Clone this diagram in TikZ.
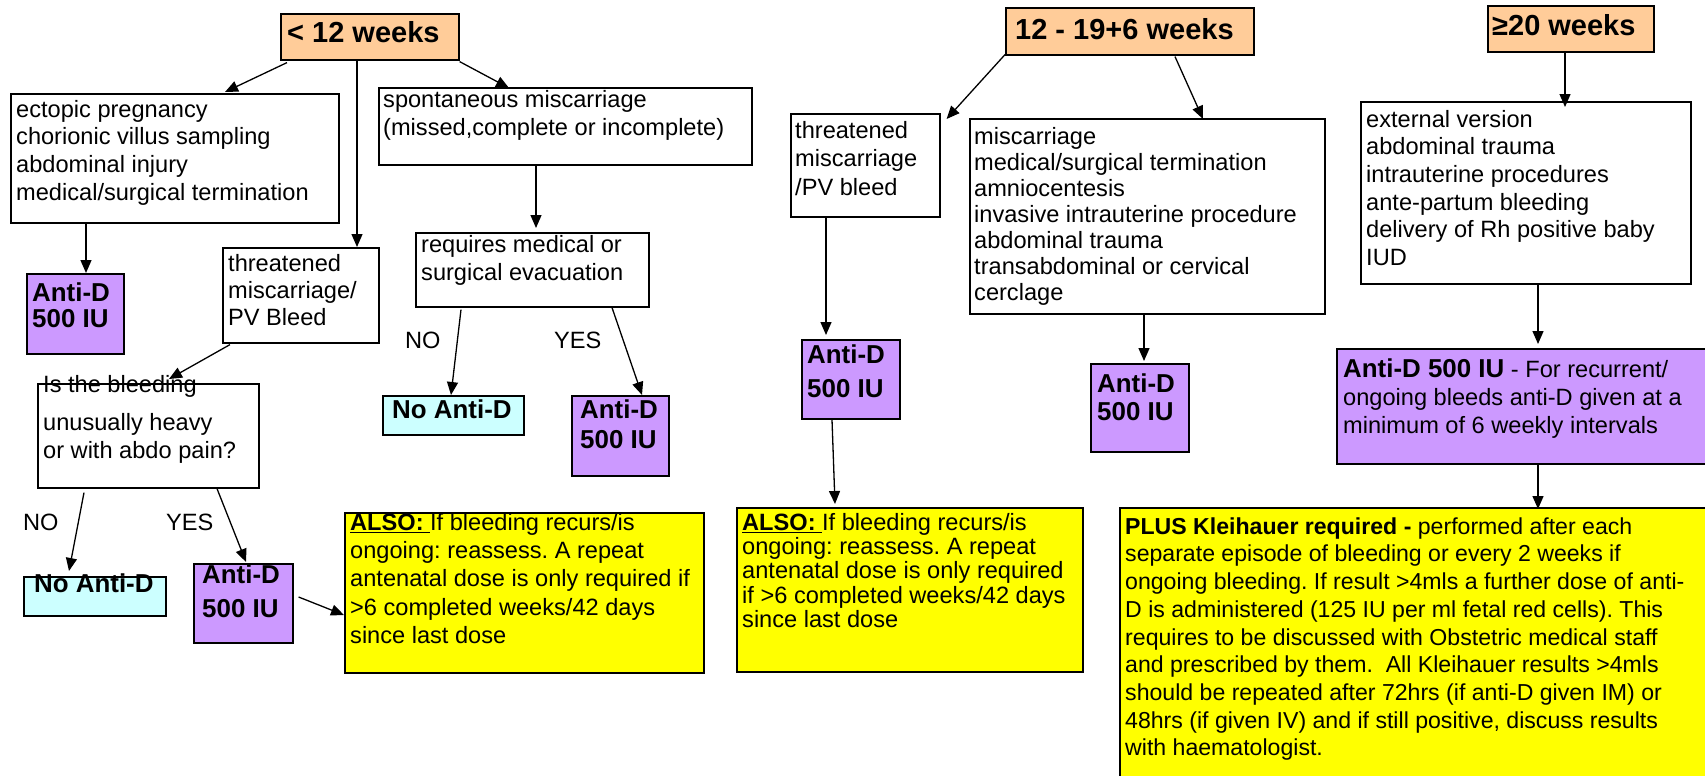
\documentclass[tikz,border=0pt]{standalone}
\usepackage{fontspec}
\setmainfont{Liberation Sans}
\usetikzlibrary{arrows.meta,calc}
\frenchspacing
\definecolor{hdr}{HTML}{FFCC99}
\definecolor{pur}{HTML}{CC99FF}
\definecolor{cyn}{HTML}{CCFFFF}
\definecolor{yel}{HTML}{FFFF00}
\tikzset{
  bx/.style={draw=black, line width=1.6pt, fill=white, inner sep=0pt, anchor=north west},
  txt/.style={inner sep=0pt, anchor=north west, align=left},
  nt/.style={font=\fontsize{23.6}{#1}\selectfont},
  pt/.style={font=\fontsize{23.1}{#1}\selectfont},
  bt/.style={font=\fontsize{25.9}{#1}\selectfont\bfseries},
  ht/.style={font=\fontsize{29}{34}\selectfont\bfseries},
  arr/.style={-{Triangle[length=13pt,width=11pt]}, line width=1.3pt},
}
\newcommand\mkbox[6]{\pgfmathsetmacro\bw{#4-#2}\pgfmathsetmacro\bh{#5-#3}%
  \node[bx,#6,minimum width=\bw pt,minimum height=\bh pt] (#1) at (#2,#3) {};}
\newcommand\mktext[5][]{\node[txt,#1] (#2) at (#3,{#4-22}) {\rule{0pt}{22pt}#5};}
\begin{document}
\begin{tikzpicture}[x=1pt,y=-1pt]
\fill[white] (0,0) rectangle (1705,776);
\useasboundingbox (0,0) rectangle (1705,776);
% boxes
\mkbox{lt12}{280}{13}{458}{59}{fill=hdr}
\mkbox{ect}{10}{93}{338}{222}{}
\mkbox{spont}{378}{87}{751}{164}{}
\mkbox{thrL}{222}{247}{378}{342}{}
\mkbox{req}{415}{232}{648}{306}{}
\mkbox{adL}{26}{273}{123}{353}{fill=pur}
\mkbox{isb}{37}{383}{258}{487}{}
\mkbox{noR}{382}{395}{523}{434}{fill=cyn}
\mkbox{adR}{571}{395}{668}{475}{fill=pur}
\mkbox{noL}{23}{576}{165}{615}{fill=cyn}
\mkbox{adL2}{193}{563}{292}{642}{fill=pur}
\mkbox{also1}{344}{512}{703}{672}{fill=yel}
\mkbox{w1219}{1005}{7}{1253}{54}{fill=hdr}
\mkbox{thrM}{790}{113}{939}{216}{}
\mkbox{misc}{969}{118}{1324}{313}{}
\mkbox{adM1}{801}{339}{899}{418}{fill=pur}
\mkbox{adM2}{1090}{363}{1188}{451}{fill=pur}
\mkbox{also2}{736}{507}{1082}{671}{fill=yel}
\mkbox{w20}{1487}{5}{1653}{51}{fill=hdr}
\mkbox{ext}{1360}{101}{1690}{283}{}
\mkbox{adB}{1336}{348}{1720}{463}{fill=pur}
\mkbox{plus}{1119}{507}{1720}{790}{fill=yel}
% texts
\mktext[ht]{t-lt12}{287}{42}{< 12 weeks}
\mktext[nt=27.7]{t-ect}{16}{117}{ectopic pregnancy\\chorionic villus sampling\\abdominal injury\\medical/surgical termination}
\mktext[nt=28]{t-spont}{383}{107}{spontaneous miscarriage\\(missed,complete or incomplete)}
\mktext[nt=27]{t-thrL}{228}{271}{threatened\\miscarriage/\\PV Bleed}
\mktext[nt=28]{t-req}{421}{252}{requires medical or\\surgical evacuation}
\mktext[bt=26]{t-adL}{32}{301}{Anti-D\\500 IU}
\mktext[nt=28]{t-isb}{43}{392}{Is the bleeding\\[10pt]unusually heavy\\or with abdo pain?}
\mktext[nt=28]{l-noL}{23}{530}{NO}
\mktext[nt=28]{l-yesL}{166}{530}{YES}
\mktext[bt=28]{t-noL}{34}{592}{No Anti-D}
\mktext[bt=34]{t-adL2}{202}{583}{Anti-D\\500 IU}
\mktext[nt=28.3]{t-also1}{350}{530}{\underline{\textbf{ALSO:}\ }If bleeding recurs/is\\ongoing: reassess. A repeat\\antenatal dose is only required if\\>6 completed weeks/42 days\\since last dose}
\mktext[bt=28]{t-noR}{392}{418}{No Anti-D}
\mktext[bt=30]{t-adR}{580}{418}{Anti-D\\500 IU}
\mktext[nt=28]{l-noR}{405}{348}{NO}
\mktext[nt=28]{l-yesR}{554}{348}{YES}
\mktext[ht]{t-w1219}{1015}{39}{12 - 19+6 weeks}
\mktext[nt=28.5]{t-thrM}{795}{138}{threatened\\miscarriage\\/PV bleed}
\mktext[nt=26]{t-misc}{974}{144}{miscarriage\\medical/surgical termination\\amniocentesis\\invasive intrauterine procedure\\abdominal trauma\\transabdominal or cervical\\cerclage}
\mktext[bt=34]{t-adM1}{807}{363}{Anti-D\\500 IU}
\mktext[bt=28]{t-adM2}{1097}{392}{Anti-D\\500 IU}
\mktext[nt=24.3]{t-also2}{742}{530}{\underline{\textbf{ALSO:}\ }If bleeding recurs/is\\ongoing: reassess. A repeat\\antenatal dose is only required\\if >6 completed weeks/42 days\\since last dose}
\mktext[ht]{t-w20}{1492}{35}{≥20 weeks}
\mktext[nt=27.6]{t-ext}{1366}{127}{external version\\abdominal trauma\\intrauterine procedures\\ante-partum bleeding\\delivery of Rh positive baby\\IUD}
\mktext[nt=28]{t-adB}{1343}{377}{{\fontsize{25.9}{28}\selectfont\bfseries Anti-D 500 IU} - For recurrent/\\ongoing bleeds anti-D given at a\\minimum of 6 weekly intervals}
\mktext[pt=27.7]{t-plus}{1125}{534}{\textbf{PLUS Kleihauer required -} performed after each\\separate episode of bleeding or every 2 weeks if\\ongoing bleeding. If result >4mls a further dose of anti-\\D is administered (125 IU per ml fetal red cells). This\\requires to be discussed with Obstetric medical staff\\and prescribed by them.\ \ All Kleihauer results >4mls\\should be repeated after 72hrs (if anti-D given IM) or\\48hrs (if given IV) and if still positive, discuss results\\with haematologist.}
% arrows
\draw[arr] ($(lt12.south west)+(7,2)$) -- ($(ect.north west)+(215,-1)$);
\draw[arr] ($(lt12.south west)+(77,0)$) -- ($(thrL.north west)+(135,0)$);
\draw[arr] ($(lt12.south east)+(0,1)$) -- ($(spont.north west)+(131,1)$);
\draw[arr] ($(ect.south west)+(76,0)$) -- ($(adL.north west)+(60,0)$);
\draw[arr] ($(spont.south west)+(158,0)$) -- ($(req.north west)+(121,-4)$);
\draw[arr] ($(thrL.south west)+(8,1)$) -- ($(isb.north west)+(132,-4)$);
\draw[arr] ($(req.south west)+(46,2)$) -- ($(noR.north west)+(69,0)$);
\draw[arr] ($(req.south west)+(197,0)$) -- ($(adR.north west)+(71,0)$);
\draw[arr] ($(isb.south west)+(47,4)$) -- ($(noL.north west)+(46,-5)$);
\draw[arr] ($(isb.south west)+(180,0)$) -- ($(adL2.north west)+(53,-1)$);
\draw[arr] ($(adL2.north east)+(5,34)$) -- ($(also1.north west)+(0,103)$);
\draw[arr] ($(w1219.south west)+(0,-1)$) -- ($(thrM.north east)+(6,6)$);
\draw[arr] ($(w1219.south west)+(170,1)$) -- ($(misc.north west)+(234,1)$);
\draw[arr] ($(thrM.south west)+(36,0)$) -- ($(adM1.north west)+(25,-4)$);
\draw[arr] ($(misc.south west)+(175,0)$) -- ($(adM2.north west)+(54,-2)$);
\draw[arr] ($(adM1.south west)+(31,0)$) -- ($(also2.north west)+(99,-3)$);
\draw[arr] ($(w20.south west)+(78,0)$) -- ($(ext.north west)+(205,6)$);
\draw[arr] ($(ext.south west)+(178,0)$) -- ($(adB.north west)+(202,-4)$);
\draw[arr] ($(adB.south west)+(202,0)$) -- ($(plus.north west)+(419,2)$);
\end{tikzpicture}
\end{document}
